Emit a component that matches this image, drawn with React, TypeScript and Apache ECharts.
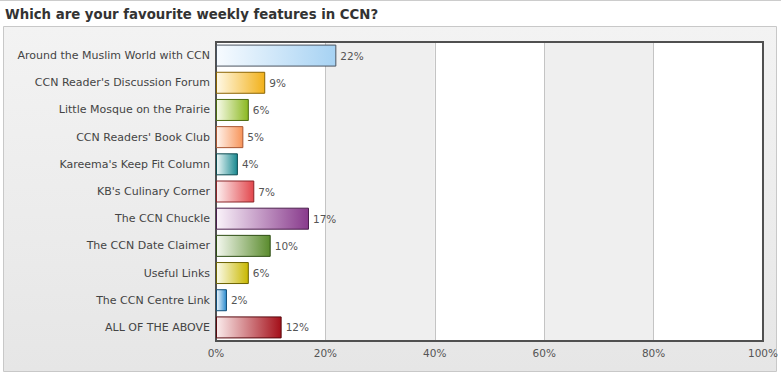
import React, { useEffect, useRef } from "react";
import * as echarts from "echarts";

const titleText = "Which are your favourite weekly features in CCN?";

const categories = [
  "Around the Muslim World with CCN",
  "CCN Reader's Discussion Forum",
  "Little Mosque on the Prairie",
  "CCN Readers' Book Club",
  "Kareema's Keep Fit Column",
  "KB's Culinary Corner",
  "The CCN Chuckle",
  "The CCN Date Claimer",
  "Useful Links",
  "The CCN Centre Link",
  "ALL OF THE ABOVE",
];

const values = [22, 9, 6, 5, 4, 7, 17, 10, 6, 2, 12];

const xTicks = [0, 20, 40, 60, 80, 100];

// [start, end, border]
const palette = [
  ["#f7fbff", "#a6d2f3", "#4a5460"],
  ["#fff9e6", "#f2b11a", "#8a6400"],
  ["#f8fbea", "#8bb820", "#4c6a10"],
  ["#fff3ec", "#f79459", "#a85530"],
  ["#eef8f8", "#198990", "#0c4b50"],
  ["#fdf0f0", "#e2464c", "#8a2428"],
  ["#faf3fa", "#883a8c", "#4a1e4c"],
  ["#f4f8ef", "#5a8b2d", "#2e4e14"],
  ["#fbfbea", "#c9b800", "#6c6300"],
  ["#eef6fc", "#2c8ccf", "#0f4d78"],
  ["#fbecec", "#a40f19", "#58090e"],
];

const FONT = "DejaVu Sans, Verdana, sans-serif";

export default function App() {
  const ref = useRef<HTMLDivElement>(null);

  useEffect(() => {
    if (!ref.current) return;
    const chart = echarts.init(ref.current, null, { renderer: "svg" });
    const data = values.map((v, i) => ({
      value: v,
      itemStyle: {
        color: new echarts.graphic.LinearGradient(0, 0, 1, 0, [
          { offset: 0, color: palette[i][0] },
          { offset: 1, color: palette[i][1] },
        ]),
        borderColor: palette[i][2],
        borderWidth: 1,
      },
    }));
    chart.setOption({
      animation: false,
      backgroundColor: "#ffffff",
      graphic: [
        {
          type: "line",
          z: -20,
          shape: { x1: 0, y1: 0.5, x2: 781, y2: 0.5 },
          style: { stroke: "#cccccc", lineWidth: 1 },
        },
        {
          type: "rect",
          z: -20,
          shape: { x: 3.5, y: 26.5, width: 773, height: 345 },
          style: {
            fill: new echarts.graphic.LinearGradient(0, 0, 0, 1, [
              { offset: 0, color: "#f3f3f3" },
              { offset: 1, color: "#e6e6e6" },
            ]),
            stroke: "#c8c8c8",
            lineWidth: 1,
          },
        },
        {
          type: "text",
          left: 5,
          top: 8,
          style: {
            text: titleText,
            font: `bold 13.3px ${FONT}`,
            fill: "#333333",
          },
        },
      ],
      grid: {
        left: 216,
        right: 16,
        top: 42,
        bottom: 37,
        show: true,
        borderColor: "#505050",
        borderWidth: 2,
        backgroundColor: "transparent",
        z: 3,
      },
      xAxis: {
        type: "value",
        min: xTicks[0],
        max: xTicks[xTicks.length - 1],
        interval: 20,
        axisLine: { show: false },
        axisTick: { show: false },
        axisLabel: {
          formatter: "{value}%",
          color: "#555555",
          fontFamily: FONT,
          fontSize: 10.5,
          margin: 6,
        },
        splitLine: { show: true, lineStyle: { color: "#c4c4c4", width: 1 } },
        splitArea: { show: true, areaStyle: { color: ["#ffffff", "#efefef"] } },
      },
      yAxis: {
        type: "category",
        inverse: true,
        data: categories,
        axisLine: { show: false },
        axisTick: { show: false },
        splitLine: { show: false },
        axisLabel: {
          color: "#444444",
          fontFamily: FONT,
          fontSize: 11,
          margin: 6,
        },
      },
      series: [
        {
          type: "bar",
          data,
          barWidth: 22,
          z: 4,
          label: {
            show: true,
            position: "right",
            distance: 4,
            formatter: "{c}%",
            color: "#555555",
            fontFamily: FONT,
            fontSize: 10.5,
          },
        },
      ],
    });
    return () => chart.dispose();
  }, []);

  return (
    <div
      ref={ref}
      style={{ position: "absolute", left: 0, top: 0, width: 781, height: 378 }}
    />
  );
}
